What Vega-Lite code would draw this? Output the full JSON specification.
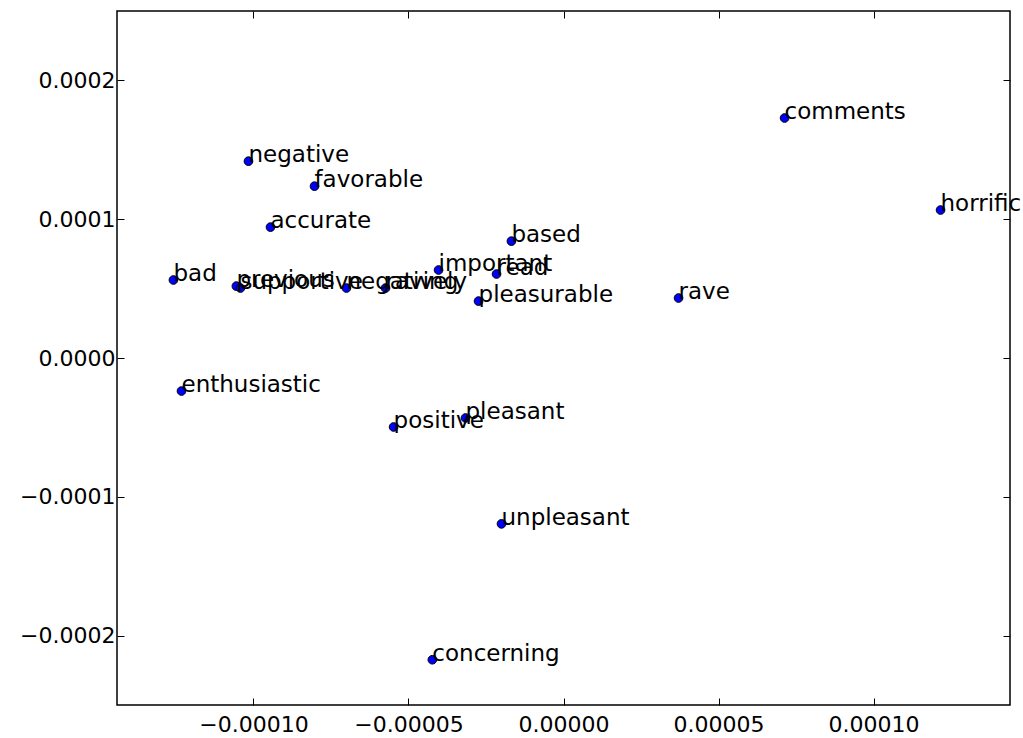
{
  "$schema": "https://vega.github.io/schema/vega-lite/v6.json",
  "autosize": "none",
  "padding": {"left": 117, "top": 11, "right": 13, "bottom": 33},
  "width": 893,
  "height": 694,
  "background": "white",
  "config": {
    "font": "DejaVu Sans",
    "view": {"stroke": "black", "strokeWidth": 1.5},
    "axis": {
      "domain": false,
      "grid": false,
      "title": null,
      "tickColor": "black",
      "tickWidth": 1,
      "tickSize": -7,
      "labelColor": "black",
      "labelFont": "DejaVu Sans",
      "labelFontSize": 22
    }
  },
  "data": {
    "values": [
      {"word": "comments", "x": 0.0000713, "y": 0.0001729},
      {"word": "horrific", "x": 0.0001216, "y": 0.0001066},
      {"word": "negative", "x": -0.0001016, "y": 0.0001418},
      {"word": "favorable", "x": -0.0000803, "y": 0.0001238},
      {"word": "accurate", "x": -0.0000945, "y": 0.0000943},
      {"word": "based", "x": -0.0000168, "y": 0.0000842},
      {"word": "bad", "x": -0.0001258, "y": 0.0000562},
      {"word": "previous", "x": -0.0001055, "y": 0.0000518},
      {"word": "supportive", "x": -0.0001042, "y": 0.0000504},
      {"word": "negatively", "x": -0.0000700, "y": 0.0000504},
      {"word": "raving", "x": -0.0000574, "y": 0.0000504},
      {"word": "important", "x": -0.0000403, "y": 0.0000634},
      {"word": "read", "x": -0.0000216, "y": 0.0000605},
      {"word": "pleasurable", "x": -0.0000274, "y": 0.0000410},
      {"word": "rave", "x": 0.0000371, "y": 0.0000432},
      {"word": "enthusiastic", "x": -0.0001232, "y": -0.0000238},
      {"word": "pleasant", "x": -0.0000316, "y": -0.0000432},
      {"word": "positive", "x": -0.0000548, "y": -0.0000497},
      {"word": "unpleasant", "x": -0.0000200, "y": -0.0001195},
      {"word": "concerning", "x": -0.0000423, "y": -0.0002174}
    ]
  },
  "layer": [
    {
      "mark": {"type": "circle", "size": 75, "color": "#0000ff", "opacity": 1, "stroke": "black", "strokeWidth": 1},
      "encoding": {
        "x": {
          "field": "x", "type": "quantitative",
          "scale": {"domain": [-0.000144, 0.000144], "nice": false, "zero": false},
          "axis": {"orient": "bottom", "values": [-0.0001, -0.00005, 0, 0.00005, 0.0001], "format": ".5f", "labelPadding": 16}
        },
        "y": {
          "field": "y", "type": "quantitative",
          "scale": {"domain": [-0.00025, 0.00025], "nice": false, "zero": false},
          "axis": {"orient": "left", "values": [-0.0002, -0.0001, 0, 0.0001, 0.0002], "format": ".4f", "labelPadding": 9}
        }
      }
    },
    {
      "mark": {"type": "text", "align": "left", "baseline": "alphabetic", "fontSize": 23, "color": "black", "dy": 1},
      "encoding": {
        "x": {
          "field": "x", "type": "quantitative",
          "axis": {"orient": "top", "values": [-0.0001, -0.00005, 0, 0.00005, 0.0001], "labels": false}
        },
        "y": {
          "field": "y", "type": "quantitative",
          "axis": {"orient": "right", "values": [-0.0002, -0.0001, 0, 0.0001, 0.0002], "labels": false}
        },
        "text": {"field": "word"}
      }
    }
  ],
  "resolve": {"axis": {"x": "independent", "y": "independent"}}
}
